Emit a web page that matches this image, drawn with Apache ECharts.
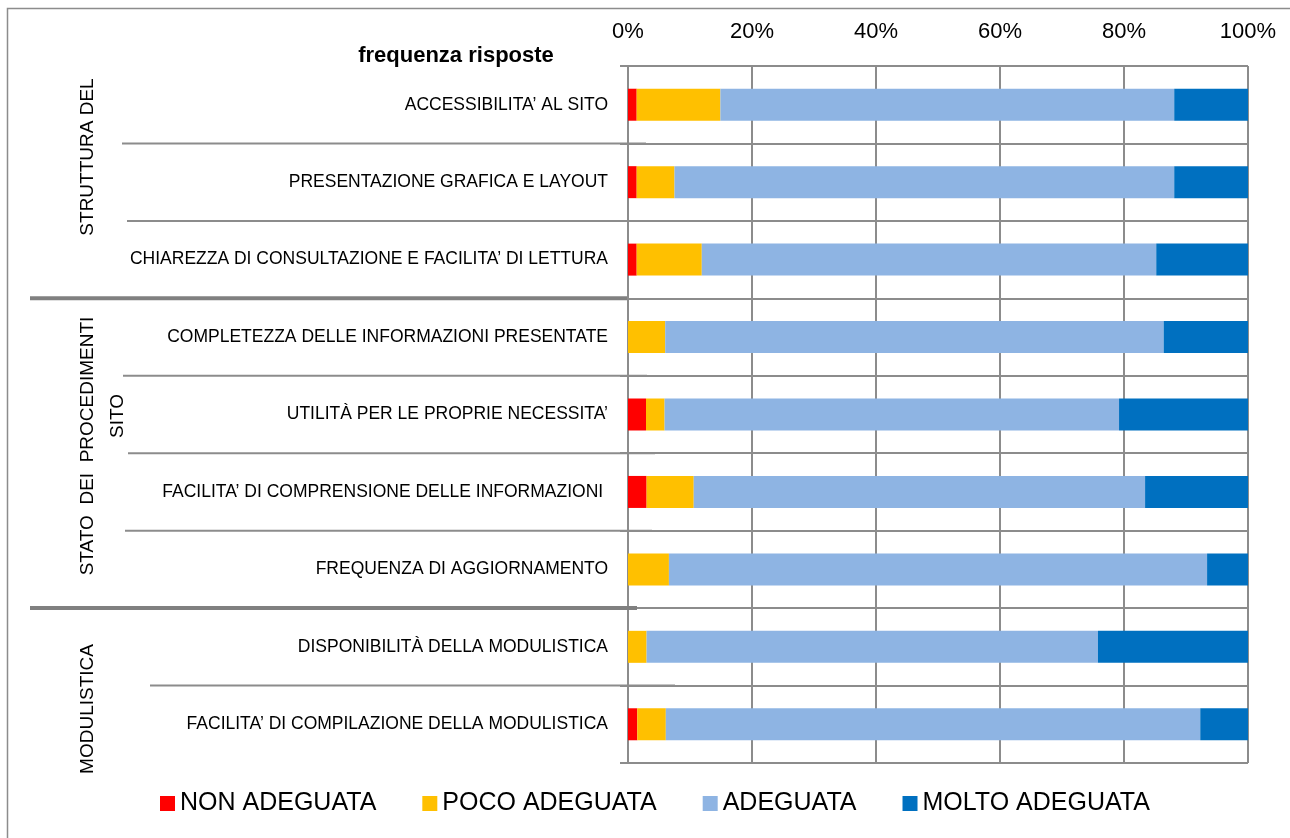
<!DOCTYPE html>
<html><head><meta charset="utf-8">
<script src="https://cdn.jsdelivr.net/npm/echarts@6/dist/echarts.min.js"></script>
<style>html,body{margin:0;padding:0;background:#fff}#c{width:1290px;height:838px}</style>
</head><body><div id="c"></div>
<script>
const categories = [
  "ACCESSIBILITA\u2019 AL SITO",
  "PRESENTAZIONE GRAFICA E LAYOUT",
  "CHIAREZZA DI CONSULTAZIONE E FACILITA\u2019 DI LETTURA",
  "COMPLETEZZA DELLE INFORMAZIONI PRESENTATE",
  "UTILITÀ PER LE PROPRIE NECESSITA\u2019",
  "FACILITA\u2019 DI COMPRENSIONE DELLE INFORMAZIONI ",
  "FREQUENZA DI AGGIORNAMENTO",
  "DISPONIBILITÀ DELLA MODULISTICA",
  "FACILITA\u2019 DI COMPILAZIONE DELLA MODULISTICA"
];
const seriesNames = ["NON ADEGUATA", "POCO ADEGUATA", "ADEGUATA", "MOLTO ADEGUATA"];
const nonAdeguata   = [1.4, 1.4, 1.4, 0, 2.9, 3.0, 0, 0, 1.5];
const pocoAdeguata  = [13.5, 6.1, 10.5, 6.0, 3.0, 7.6, 6.6, 3.0, 4.6];
const adeguata      = [73.2, 80.6, 73.3, 80.4, 73.3, 72.8, 86.8, 72.8, 86.2];
const moltoAdeguata = [11.9, 11.9, 14.8, 13.6, 20.8, 16.6, 6.6, 24.2, 7.7];
const xTicks = [0, 20, 40, 60, 80, 100];
const title = "frequenza risposte";
const groupLabels = ["STRUTTURA DEL", "STATO  DEI  PROCEDIMENTI", "SITO", "MODULISTICA"];

const colors = ["#FF0000", "#FFC000", "#8EB4E3", "#0070C0"];
const FONT = "'Liberation Sans', Arial, sans-serif";
const GRID = "#8c8c8c";

const chart = echarts.init(document.getElementById('c'), null, {renderer: 'canvas'});
const allData = [nonAdeguata, pocoAdeguata, adeguata, moltoAdeguata];

chart.setOption({
  animation: false,
  backgroundColor: '#fff',
  textStyle: {fontFamily: FONT},
  grid: {left: 628, right: 42, top: 66, bottom: 75, containLabel: false},
  legend: {
    data: seriesNames, bottom: 17, left: 155, itemWidth: 15, itemHeight: 15, itemGap: 46, icon: 'rect',
    textStyle: {fontSize: 25, color: '#000', fontFamily: FONT}
  },
  xAxis: {
    type: 'value', position: 'top', min: xTicks[0], max: xTicks[xTicks.length - 1], interval: 20,
    axisLine: {show: false}, axisTick: {show: false},
    axisLabel: {formatter: '{value}%', fontSize: 22, color: '#000', margin: 23, fontFamily: FONT},
    splitLine: {show: true, lineStyle: {color: GRID, width: 2}}
  },
  yAxis: {
    type: 'category', data: categories, inverse: true,
    axisLine: {show: true, lineStyle: {color: GRID, width: 2}},
    axisTick: {show: true, length: 8, lineStyle: {color: GRID, width: 2}},
    axisLabel: {fontSize: 17.5, color: '#000', margin: 20, fontFamily: FONT},
    splitLine: {show: true, lineStyle: {color: GRID, width: 2}}
  },
  series: seriesNames.map((n, i) => ({
    name: n, type: 'bar', stack: 'tot', data: allData[i], barWidth: 32,
    itemStyle: {color: colors[i]}
  }))
});

// decorations tied to the category axis
const c0 = chart.convertToPixel({yAxisIndex: 0}, 0);
const c1 = chart.convertToPixel({yAxisIndex: 0}, 1);
const band = c1 - c0;
const boundary = k => c0 + band * (k - 0.5); // boundary above row k
const thin = [[1, 122, 646], [2, 127, 652], [4, 123, 647], [5, 128, 655], [6, 125, 652], [8, 150, 675]];
const thick = [[3, 30, 627], [7, 30, 637]];
const g = [];
thin.forEach(([k, x1, x2]) => g.push({type: 'line', shape: {x1, y1: boundary(k), x2, y2: boundary(k)}, style: {stroke: GRID, lineWidth: 2}, z: 10}));
thick.forEach(([k, x1, x2]) => g.push({type: 'line', shape: {x1, y1: boundary(k), x2, y2: boundary(k)}, style: {stroke: '#808080', lineWidth: 4}, z: 10}));
g.push({type: 'rect', shape: {x: 7.5, y: 8.5, width: 1300, height: 900}, style: {fill: 'none', stroke: '#8c8c8c', lineWidth: 1.5}, silent: true, z: 0});
g.push({type: 'text', x: 456, y: 56, style: {text: title, font: 'bold 22px ' + FONT, fill: '#000', textAlign: 'center', textVerticalAlign: 'middle'}, z: 10});
const rot = [[groupLabels[0], 88, 157], [groupLabels[1], 88, 446], [groupLabels[2], 118, 416], [groupLabels[3], 88, 709]];
rot.forEach(([t, x, y]) => g.push({type: 'text', x, y, rotation: Math.PI / 2, style: {text: t, font: '19px ' + FONT, fill: '#000', textAlign: 'center', textVerticalAlign: 'middle'}, z: 10}));
chart.setOption({graphic: g});
</script></body></html>
